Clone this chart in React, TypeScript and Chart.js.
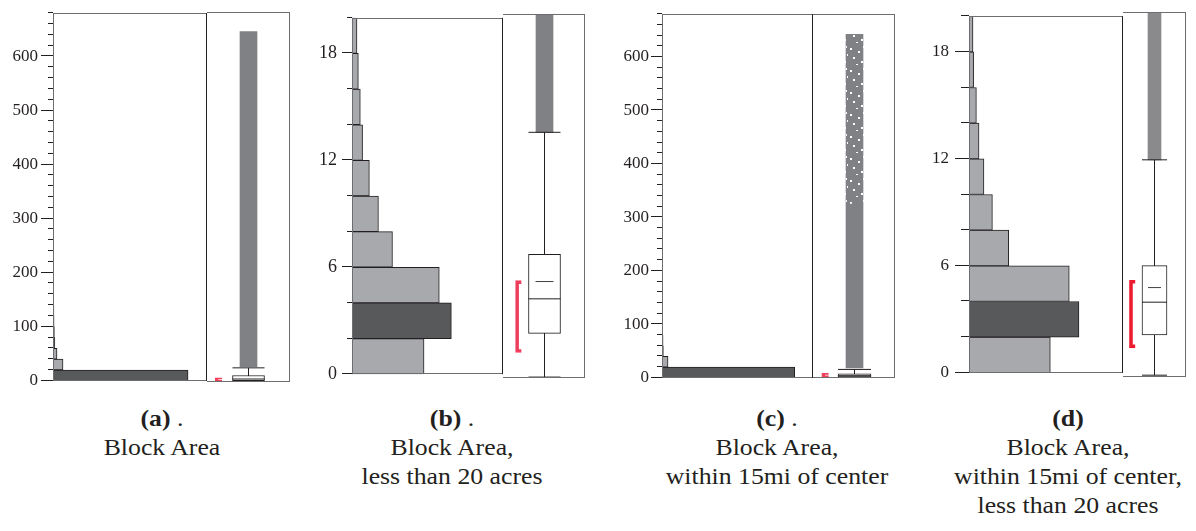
import React, { useEffect, useRef } from 'react';
import { Chart, registerables } from 'chart.js';

Chart.register(...registerables);

// ================= DATA =================
// (a) Block Area — histogram bin edges (acres) and relative counts (% of panel width)
const binEdgesA = [0, 20, 40, 60, 80, 100, 120, 140];
const countsA = [87.7, 6.5, 2.6, 1.2, 0.9, 0.7, 0.6];
const darkBinA = 0;
// box plot: lower whisker, Q1, median, Q3, upper whisker
const boxStatsA = [0.1, 2.3, 5.5, 12, 26];
const meanA: number | null = null;
const outlierDenseA = [28, 644];
const outlierSparseA: number[] | null = null;
const shortestHalfA = [1.5, 7.5];

// (b) Block Area, less than 20 acres
const binEdgesB = [0, 2, 4, 6, 8, 10, 12, 14, 16, 18, 20];
const countsB = [47.7, 65.8, 57.8, 26.8, 17.5, 11.5, 7.0, 5.5, 4.2, 3.3];
const darkBinB = 1;
const boxStatsB = [0.05, 2.45, 4.35, 6.8, 13.5];
const meanB: number | null = 5.3;
const outlierDenseB = [13.5, 20];
const outlierSparseB: number[] | null = null;
const shortestHalfB = [1.4, 5.35];

// (c) Block Area, within 15mi of center
const binEdgesC = [0, 20, 40, 60, 80];
const countsC = [87.9, 4.0, 0.9, 0.7];
const darkBinC = 0;
const boxStatsC = [0.1, 2, 4.3, 8, 16];
const meanC: number | null = null;
const outlierDenseC = [19, 325];
const outlierSparseC: number[] | null = [325, 642];
const shortestHalfC = [2, 8.5];

// (d) Block Area, within 15mi of center, less than 20 acres
const binEdgesD = [0, 2, 4, 6, 8, 10, 12, 14, 16, 18, 20];
const countsD = [52.8, 71.4, 65.1, 25.8, 15.2, 9.7, 6.5, 4.8, 3.0, 2.6];
const darkBinD = 1;
const boxStatsD = [0.1, 2.3, 4.1, 6.1, 11.9];
const meanD: number | null = 4.9;
const outlierDenseD = [11.9, 20];
const outlierSparseD: number[] | null = null;
const shortestHalfD = [1.6, 5.3];

// y axes: [max, minor step, labelled every]
const yAxisFull = [680, 20, 100];
const yAxisSmall = [20, 2, 6];

// captions
const captionA = ['(a)', '.', ['Block Area']];
const captionB = ['(b)', '.', ['Block Area,', 'less than 20 acres']];
const captionC = ['(c)', '.', ['Block Area,', 'within 15mi of center']];
const captionD = ['(d)', '', ['Block Area,', 'within 15mi of center,', 'less than 20 acres']];

// ================= STYLE =================
const INK = '#231f20';
const LIGHT = '#a7a9ac';
const DARK = '#58595b';
const FRAME = '#6d6e71';
const PAD = 12;

function speckle(color: string): CanvasPattern | string {
  const c = document.createElement('canvas');
  c.width = 17;
  c.height = 22;
  const g = c.getContext('2d');
  if (!g) return color;
  g.fillStyle = color;
  g.fillRect(0, 0, 17, 22);
  g.fillStyle = '#ffffff';
  const holes = [[3, 2, 2, 2], [11, 5, 2, 2], [6, 11, 2, 2], [14, 15, 2, 2], [0, 8, 1, 2], [9, 18, 2, 1], [16, 0, 1, 2]];
  holes.forEach(([x, y, w, h]) => g.fillRect(x, y, w, h));
  const pat = g.createPattern(c, 'repeat');
  return pat || color;
}

type PanelProps = {
  axisX: number; top: number; bottom: number; divider: number; right: number;
  axisW: number; fontSize: number; majorLen: number; minorLen: number; gap: number;
  edges: number[]; counts: number[]; dark: number; yAxis: number[];
  stats: number[]; mean: number | null; dense: number[]; sparse: number[] | null; bracket: number[];
  boxW: number; bandW: number; meanW: number; bracketX: number; bracketW: number;
  bracketColor: string; bandColor: string;
};

function Panel(p: PanelProps) {
  const histRef = useRef<HTMLCanvasElement>(null);
  const boxRef = useRef<HTMLCanvasElement>(null);
  const plotH = p.bottom - p.top;
  const canvasH = plotH + 2 * PAD;
  const histLeft = p.axisX - p.axisW;
  const histW = p.divider - histLeft;
  const boxCW = p.right - p.divider;
  const [yMax, yStep, labelEvery] = p.yAxis;

  useEffect(() => {
    const framePlugin = (sides: string) => ({
      id: 'frame',
      afterDatasetsDraw(chart: any) {
        const { ctx, chartArea: a } = chart;
        const L = Math.round(a.left) + 0.5;
        const R = Math.round(a.right) - 0.5;
        const T = Math.round(a.top) + 0.5;
        const B = Math.round(a.bottom) - 0.5;
        ctx.save();
        ctx.lineWidth = 1;
        const line = (x1: number, y1: number, x2: number, y2: number, c: string) => {
          ctx.strokeStyle = c;
          ctx.beginPath();
          ctx.moveTo(x1, y1);
          ctx.lineTo(x2, y2);
          ctx.stroke();
        };
        line(a.left, T, a.right, T, FRAME);
        line(a.left, B, a.right, B, FRAME);
        if (sides.includes('L')) line(L, a.top, L, a.bottom, FRAME);
        if (sides.includes('R')) line(R, a.top, R, a.bottom, sides.includes('D') ? INK : FRAME);
        ctx.restore();
      },
    });

    const tickPlugin = {
      id: 'tickMarks',
      afterDraw(chart: any) {
        const s = chart.scales.y;
        const ctx = chart.ctx;
        ctx.save();
        ctx.strokeStyle = INK;
        ctx.lineWidth = 1;
        s.ticks.forEach((t: any) => {
          const y = Math.round(s.getPixelForValue(t.value)) - 0.5;
          const len = t.value % labelEvery === 0 ? p.majorLen : p.minorLen;
          ctx.beginPath();
          ctx.moveTo(s.right - len, y);
          ctx.lineTo(s.right, y);
          ctx.stroke();
        });
        ctx.restore();
      },
    };

    const hist = new Chart(histRef.current as HTMLCanvasElement, {
      type: 'bar',
      data: {
        datasets: [
          {
            data: p.counts.map((c, i) => ({ x: c, y: (p.edges[i] + p.edges[i + 1]) / 2 })),
            backgroundColor: p.counts.map((_, i) => (i === p.dark ? DARK : LIGHT)),
            borderColor: INK,
            borderWidth: 1,
            borderSkipped: 'start',
            barPercentage: 1,
            categoryPercentage: 1,
          } as any,
        ],
      },
      options: {
        indexAxis: 'y',
        animation: false,
        responsive: false,
        layout: { autoPadding: false, padding: { top: PAD, bottom: PAD, left: 0, right: 0 } },
        plugins: { legend: { display: false }, tooltip: { enabled: false } },
        scales: {
          x: { type: 'linear', min: 0, max: 100, display: false, offset: false },
          y: {
            type: 'linear',
            min: 0,
            max: yMax,
            offset: false,
            afterFit: (s: any) => { s.width = p.axisW; },
            grid: { display: false, drawTicks: true, tickLength: p.majorLen, offset: false },
            border: { display: false },
            ticks: {
              stepSize: yStep,
              autoSkip: false,
              padding: p.gap,
              color: INK,
              font: { family: '"Liberation Serif", "Times New Roman", serif', size: p.fontSize },
              callback: (v: any) => (Number(v) % labelEvery === 0 ? String(v) : ''),
            },
          },
        } as any,
      },
      plugins: [framePlugin('LRD'), tickPlugin],
    });

    // centre of the box column, nudged onto a half pixel so 1px whiskers stay crisp
    const C = (Math.floor(boxCW / 2) + 0.5) / boxCW;
    const [wLo, q1, med, q3, wHi] = p.stats;
    const datasets: any[] = [
      {
        type: 'bar', data: [{ x: C, y: p.dense }], backgroundColor: p.bandColor,
        borderWidth: 0, barThickness: p.bandW, grouped: false, order: 5,
      },
      {
        type: 'line', data: [{ x: C, y: wLo }, { x: C, y: wHi }], borderColor: INK,
        borderWidth: 1, pointRadius: 0, order: 4,
      },
      {
        type: 'bar', data: [{ x: C, y: [q1, q3] }], backgroundColor: '#ffffff', borderColor: INK,
        borderWidth: 1, borderSkipped: false, barThickness: p.boxW, grouped: false, order: 3,
      },
      {
        type: 'scatter', data: [{ x: C, y: wLo }, { x: C, y: wHi }, { x: C, y: med }],
        pointStyle: 'line', pointRadius: p.boxW / 2, pointBorderColor: INK, pointBorderWidth: 1, order: 1,
      },
      {
        type: 'bar', data: [{ x: p.bracketX, y: p.bracket }], backgroundColor: 'rgba(0,0,0,0)',
        borderColor: p.bracketColor, borderWidth: 3, borderSkipped: 'right',
        barThickness: p.bracketW, grouped: false, order: 1,
      },
    ];
    if (p.sparse) {
      datasets.push({
        type: 'bar', data: [{ x: C, y: p.sparse }], backgroundColor: speckle(p.bandColor),
        borderWidth: 0, barThickness: p.bandW, grouped: false, order: 5,
      });
    }
    if (p.mean !== null) {
      datasets.push({
        type: 'scatter', data: [{ x: C, y: p.mean }], pointStyle: 'line', pointRadius: p.meanW / 2,
        pointBorderColor: '#414042', pointBorderWidth: 1, order: 1,
      });
    }

    const box = new Chart(boxRef.current as HTMLCanvasElement, {
      type: 'bar',
      data: { datasets },
      options: {
        animation: false,
        responsive: false,
        layout: { autoPadding: false, padding: { top: PAD, bottom: PAD, left: 0, right: 0 } },
        plugins: { legend: { display: false }, tooltip: { enabled: false } },
        scales: {
          x: { type: 'linear', min: 0, max: 1, display: false, offset: false, grid: { offset: false } },
          y: { type: 'linear', min: 0, max: yMax, display: false },
        } as any,
      },
      plugins: [framePlugin('R')],
    });

    return () => {
      hist.destroy();
      box.destroy();
    };
  }, []);

  return (
    <>
      <canvas
        ref={histRef}
        width={histW}
        height={canvasH}
        style={{ position: 'absolute', left: histLeft, top: p.top - PAD, width: histW, height: canvasH }}
      />
      <canvas
        ref={boxRef}
        width={boxCW}
        height={canvasH}
        style={{ position: 'absolute', left: p.divider, top: p.top - PAD, width: boxCW, height: canvasH }}
      />
    </>
  );
}

function Caption({ cx, cap }: { cx: number; cap: any[] }) {
  const [label, dot, lines] = cap;
  return (
    <div
      style={{
        position: 'absolute',
        left: cx - 160,
        top: 404,
        width: 320,
        textAlign: 'center',
        fontFamily: '"Liberation Serif", "Times New Roman", serif',
        fontSize: 23,
        lineHeight: '29px',
        color: INK,
        transform: 'scaleX(1.12)',
        transformOrigin: 'center',
        whiteSpace: 'nowrap',
      }}
    >
      <div>
        <b>{label}</b>
        {dot ? ' ' + dot : ''}
      </div>
      {(lines as string[]).map((l, i) => (
        <div key={i}>{l}</div>
      ))}
    </div>
  );
}

export default function App() {
  return (
    <div style={{ position: 'absolute', left: 0, top: 0, width: 1196, height: 531, background: '#fff', overflow: 'hidden' }}>
      <Panel
        axisX={53} top={12} bottom={382} divider={207} right={290}
        axisW={50} fontSize={17} majorLen={12} minorLen={5} gap={3}
        edges={binEdgesA} counts={countsA} dark={darkBinA} yAxis={yAxisFull}
        stats={boxStatsA} mean={meanA} dense={outlierDenseA} sparse={outlierSparseA} bracket={shortestHalfA}
        boxW={32} bandW={17} meanW={17} bracketX={0.14} bracketW={7}
        bracketColor="#f0405a" bandColor="#808184"
      />
      <Panel
        axisX={352} top={14} bottom={378} divider={503} right={585}
        axisW={40} fontSize={18} majorLen={10} minorLen={5} gap={5}
        edges={binEdgesB} counts={countsB} dark={darkBinB} yAxis={yAxisSmall}
        stats={boxStatsB} mean={meanB} dense={outlierDenseB} sparse={outlierSparseB} bracket={shortestHalfB}
        boxW={32} bandW={17} meanW={18} bracketX={0.19} bracketW={6}
        bracketColor="#ef3e5c" bandColor="#808184"
      />
      <Panel
        axisX={662} top={14} bottom={378} divider={813} right={895}
        axisW={50} fontSize={17} majorLen={11} minorLen={5} gap={2}
        edges={binEdgesC} counts={countsC} dark={darkBinC} yAxis={yAxisFull}
        stats={boxStatsC} mean={meanC} dense={outlierDenseC} sparse={outlierSparseC} bracket={shortestHalfC}
        boxW={33} bandW={17} meanW={17} bracketX={0.15} bracketW={7}
        bracketColor="#f0405a" bandColor="#808184"
      />
      <Panel
        axisX={969} top={12} bottom={377} divider={1123} right={1186}
        axisW={40} fontSize={17} majorLen={14} minorLen={8} gap={6}
        edges={binEdgesD} counts={countsD} dark={darkBinD} yAxis={yAxisSmall}
        stats={boxStatsD} mean={meanD} dense={outlierDenseD} sparse={outlierSparseD} bracket={shortestHalfD}
        boxW={25} bandW={13} meanW={13} bracketX={0.15} bracketW={6}
        bracketColor="#ec1c2e" bandColor="#8a8a8d"
      />
      <Caption cx={162} cap={captionA} />
      <Caption cx={452} cap={captionB} />
      <Caption cx={777} cap={captionC} />
      <Caption cx={1068} cap={captionD} />
    </div>
  );
}
